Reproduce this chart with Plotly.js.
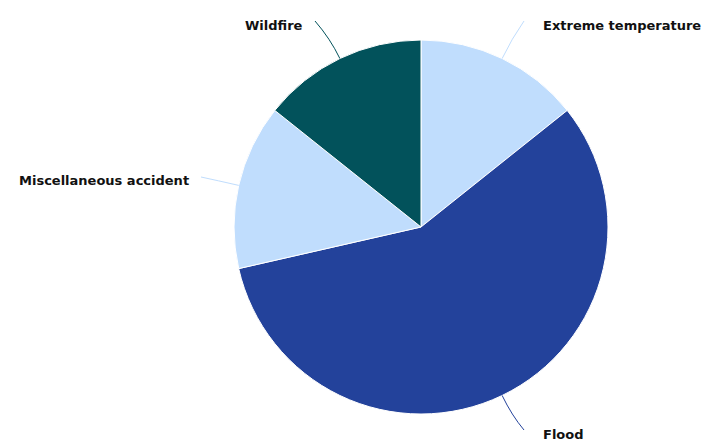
<!DOCTYPE html>
<html><head><meta charset="utf-8">
<script src="https://cdn.plot.ly/plotly-3.0.1.min.js"></script>
<style>html,body{margin:0;padding:0;background:#fff}#chart{width:704px;height:443px}</style>
</head><body><div id="chart"></div>
<script>
// ---- data ----
const categories = ["Extreme temperature", "Flood", "Miscellaneous accident", "Wildfire"];
const values = [1, 4, 1, 1];
const colors = ["#c0ddfd", "#23429b", "#c0ddfd", "#02525b"];

// ---- layout config (pixel geometry) ----
const W = 704, H = 443;
const M = {l: 0, r: 0, t: 40, b: 29};
const CX = 421;
const plotH = H - M.t - M.b;
const R = plotH / 2;
const CY = M.t + R;
// label anchors (px) and alignment, same order as categories
const labelPos = [
  {x: 541, y: 25, align: "left"},
  {x: 541, y: 434, align: "left"},
  {x: 191, y: 181, align: "right"},
  {x: 305, y: 25, align: "right"}
];

const toPX = x => x / W;
const toPY = y => (H - M.b - y) / plotH;

const total = values.reduce((a, b) => a + b, 0);
const shapes = [], annotations = [];
let cum = 0;
values.forEach((v, i) => {
  const mid = (cum + v / 2) / total * 2 * Math.PI;
  cum += v;
  const sx = CX + R * Math.sin(mid), sy = CY - R * Math.cos(mid);
  const lp = labelPos[i];
  const ex = lp.align === "left" ? lp.x - 17 : lp.x + 10;
  const ey = lp.y - 4;
  const cx = CX + (R + 22) * Math.sin(mid), cy = CY - (R + 22) * Math.cos(mid);
  shapes.push({
    type: "path", xref: "paper", yref: "paper",
    path: `M ${toPX(sx)} ${toPY(sy)} Q ${toPX(cx)} ${toPY(cy)} ${toPX(ex)} ${toPY(ey)}`,
    line: {color: colors[i], width: 1}
  });
  annotations.push({
    xref: "paper", yref: "paper", x: toPX(lp.x), y: toPY(lp.y),
    xanchor: lp.align, yanchor: "middle", showarrow: false,
    text: "<b>" + categories[i] + "</b>",
    font: {family: "DejaVu Sans", size: 13, color: "#111"}
  });
});

const trace = {
  type: "pie",
  labels: categories,
  values: values,
  sort: false,
  direction: "clockwise",
  rotation: 0,
  textinfo: "none",
  hoverinfo: "label+value",
  marker: {colors: colors, line: {color: "#ffffff", width: 1}},
  domain: {x: [(CX - R) / W, (CX + R) / W], y: [0, 1]},
  showlegend: false
};

const layout = {
  width: W, height: H,
  margin: M,
  paper_bgcolor: "#ffffff",
  showlegend: false,
  shapes: shapes,
  annotations: annotations
};

Plotly.newPlot("chart", [trace], layout, {displayModeBar: false, staticPlot: true});
</script>
</body></html>
